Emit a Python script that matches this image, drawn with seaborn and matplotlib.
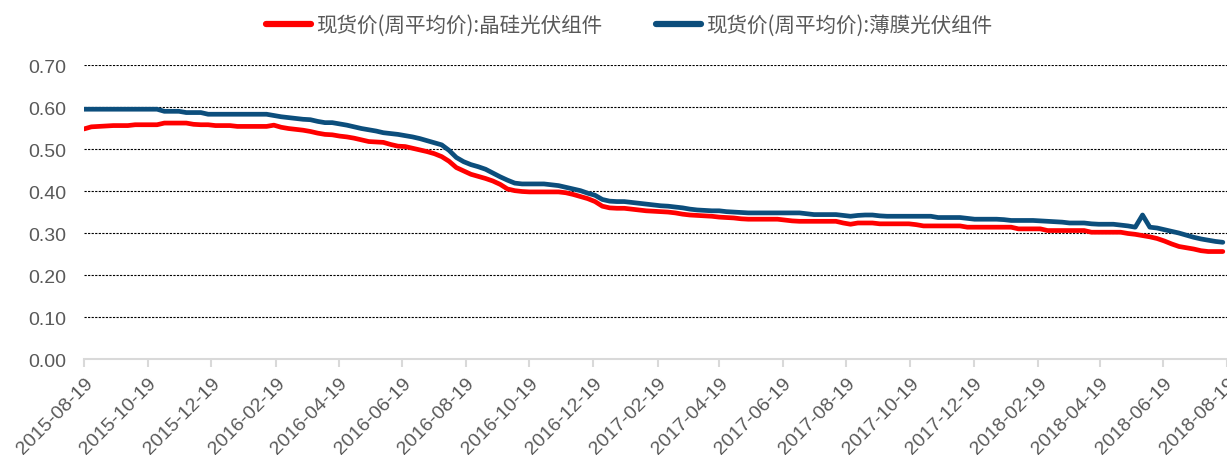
import pandas as pd
import matplotlib
matplotlib.use('Agg')
import matplotlib.pyplot as plt
import matplotlib.dates as mdates
import seaborn as sns

# weekly spot prices, starting 2015-08-19
start_date = '2015-08-19'

crystal_si = (
    [0.548, 0.553, 0.554, 0.555, 0.556, 0.556, 0.556, 0.558, 0.558, 0.558,
     0.558, 0.562, 0.562, 0.562, 0.562, 0.559, 0.558, 0.558, 0.556, 0.556,
     0.556, 0.554, 0.554, 0.554, 0.554, 0.554, 0.557, 0.552, 0.549, 0.547,
     0.545, 0.542, 0.538, 0.535, 0.534, 0.531, 0.529, 0.526, 0.522, 0.518,
     0.517, 0.516, 0.511, 0.507, 0.506, 0.502, 0.498, 0.494, 0.489, 0.482,
     0.471, 0.456, 0.448, 0.440, 0.435, 0.430, 0.424, 0.416, 0.405, 0.401,
     0.399, 0.398, 0.398, 0.398, 0.398, 0.398, 0.396, 0.392, 0.387, 0.382,
     0.375, 0.364, 0.360, 0.359, 0.359, 0.357, 0.355, 0.353, 0.352, 0.351,
     0.350, 0.348, 0.345, 0.343, 0.342, 0.341, 0.340, 0.338, 0.337, 0.336,
     0.334, 0.333, 0.333, 0.333, 0.333, 0.333, 0.331, 0.329, 0.328, 0.328,
     0.328, 0.328, 0.328, 0.328, 0.324, 0.321, 0.324, 0.324, 0.324, 0.322,
     0.322, 0.322, 0.322, 0.322, 0.320, 0.317, 0.317, 0.317, 0.317, 0.317,
     0.317, 0.314, 0.314, 0.314, 0.314, 0.314, 0.314, 0.314, 0.310, 0.310,
     0.310, 0.310, 0.306, 0.306, 0.306, 0.306, 0.306, 0.306, 0.302, 0.302,
     0.302, 0.302, 0.302, 0.299, 0.297, 0.294, 0.291, 0.287, 0.281, 0.274,
     0.268, 0.265, 0.262, 0.258, 0.256, 0.256, 0.256]
)

thin_film = (
    [0.595, 0.595, 0.595, 0.595, 0.595, 0.595, 0.595, 0.595, 0.595, 0.595,
     0.595, 0.590, 0.590, 0.590, 0.587, 0.587, 0.587, 0.583, 0.583, 0.583,
     0.583, 0.583, 0.583, 0.583, 0.583, 0.583, 0.580, 0.577, 0.575, 0.573,
     0.571, 0.570, 0.566, 0.563, 0.563, 0.560, 0.557, 0.553, 0.549, 0.546,
     0.543, 0.539, 0.537, 0.535, 0.532, 0.529, 0.525, 0.520, 0.515, 0.510,
     0.497, 0.480, 0.470, 0.463, 0.458, 0.452, 0.443, 0.434, 0.426, 0.419,
     0.417, 0.417, 0.417, 0.417, 0.415, 0.413, 0.409, 0.405, 0.401, 0.395,
     0.390, 0.380, 0.376, 0.375, 0.375, 0.373, 0.371, 0.369, 0.367, 0.365,
     0.364, 0.362, 0.360, 0.357, 0.355, 0.354, 0.353, 0.353, 0.351, 0.350,
     0.349, 0.348, 0.348, 0.348, 0.348, 0.348, 0.348, 0.348, 0.348, 0.346,
     0.344, 0.344, 0.344, 0.344, 0.342, 0.340, 0.342, 0.343, 0.343, 0.341,
     0.340, 0.340, 0.340, 0.340, 0.340, 0.340, 0.340, 0.337, 0.337, 0.337,
     0.337, 0.335, 0.333, 0.333, 0.333, 0.333, 0.332, 0.330, 0.330, 0.330,
     0.330, 0.329, 0.328, 0.327, 0.326, 0.324, 0.324, 0.324, 0.322, 0.321,
     0.321, 0.321, 0.319, 0.317, 0.314, 0.343, 0.314, 0.312, 0.308, 0.304,
     0.300, 0.295, 0.290, 0.286, 0.283, 0.280, 0.278]
)

series_names = ['现货价(周平均价):晶硅光伏组件', '现货价(周平均价):薄膜光伏组件']
series_colors = ['#FF0000', '#0C4E7C']

dates = pd.date_range(start_date, periods=len(crystal_si), freq='7D')
df = pd.DataFrame({'日期': dates,
                   series_names[0]: crystal_si,
                   series_names[1]: thin_film})
df_long = df.melt(id_vars='日期', var_name='系列', value_name='价格')

sns.set_style('white')
plt.rcParams['font.family'] = ['Liberation Sans', 'Noto Sans CJK SC', 'DejaVu Sans']

fig = plt.figure(figsize=(12.27, 4.56), dpi=100)
ax = fig.add_axes([0.0685, 0.2105, 0.9315, 0.6445])

sns.lineplot(data=df_long, x='日期', y='价格', hue='系列',
             palette=dict(zip(series_names, series_colors)),
             linewidth=3.4, ax=ax)

# оси
ax.set_xlim(pd.Timestamp('2015-08-19'), pd.Timestamp('2018-08-19'))
ax.set_ylim(0, 0.7)
ax.set_yticks([0.0, 0.1, 0.2, 0.3, 0.4, 0.5, 0.6, 0.7])
ax.set_yticklabels(['%.2f' % v for v in ax.get_yticks()])

tick_dates = pd.date_range('2015-08-01', '2018-08-01', freq='2MS') + pd.Timedelta(days=18)
ax.set_xticks(tick_dates)
ax.xaxis.set_major_formatter(mdates.DateFormatter('%Y-%m-%d'))

for lbl in ax.get_xticklabels():
    lbl.set_rotation(45)
    lbl.set_ha('right')
    lbl.set_rotation_mode('anchor')

ax.tick_params(axis='x', length=6, width=1.5, color='#D9D9D9', labelsize=14,
               labelcolor='#595959', pad=5, direction='out', bottom=True)
ax.tick_params(axis='y', length=0, labelsize=14, labelcolor='#595959', pad=13)

for s in ['top', 'right', 'left']:
    ax.spines[s].set_visible(False)
ax.spines['bottom'].set_color('#D9D9D9')
ax.spines['bottom'].set_linewidth(1.5)

for v in [0.1, 0.2, 0.3, 0.4, 0.5, 0.6, 0.7]:
    ax.axhline(v, color='black', linestyle=(0, (2, 1.2)), linewidth=0.8, zorder=0)

ax.set_xlabel('')
ax.set_ylabel('')

leg = ax.legend(loc='center', bbox_to_anchor=(0.513, 0.943), bbox_transform=fig.transFigure,
                ncol=2, frameon=False, handlelength=2.2, columnspacing=2.6,
                handletextpad=0.25, prop={'family': ['Noto Sans CJK SC', 'DejaVu Sans'], 'size': 14.8})
for t in leg.get_texts():
    t.set_color('#595959')
for h in leg.get_lines():
    h.set_linewidth(4.5)

fig.savefig('out.png', dpi=100)
